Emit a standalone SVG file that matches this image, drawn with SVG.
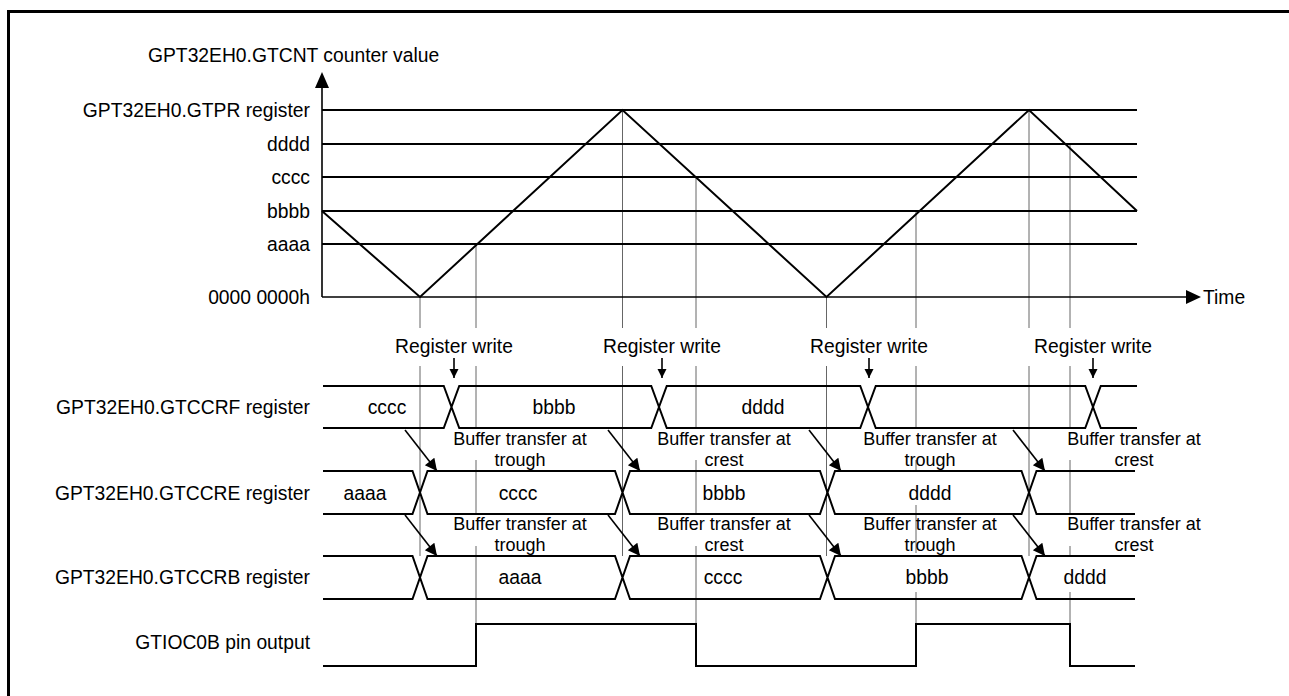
<svg xmlns="http://www.w3.org/2000/svg" width="1289" height="696" viewBox="0 0 1289 696">
<style>
text{font-family:"Liberation Sans",Arial,sans-serif;font-size:19.3px;fill:#000;dominant-baseline:central}
.r{text-anchor:end}
.m{text-anchor:middle}
.buf{font-size:18px}
.thick{stroke:#000;stroke-width:2;fill:none}
.ax{stroke:#000;stroke-width:1.6;fill:none}
.grid{stroke:#666;stroke-width:1;fill:none}
.arr{stroke:#000;stroke-width:1.6;fill:none}
</style>
<defs>
<marker id="ahS" markerUnits="userSpaceOnUse" viewBox="0 0 10 10" refX="10" refY="5" markerWidth="9" markerHeight="10" orient="auto">
<path d="M0,0 L10,5 L0,10 z" fill="#000"/>
</marker>
<marker id="ahL" markerUnits="userSpaceOnUse" viewBox="0 0 10 10" refX="10" refY="5" markerWidth="14" markerHeight="12" orient="auto">
<path d="M0,0 L10,5 L0,10 z" fill="#000"/>
</marker>
</defs>
<rect width="1289" height="696" fill="#fff"/>
<path d="M8.5,700 V11.5 H1292" stroke="#000" stroke-width="3" fill="none"/>

<g id="grid-lines">
<path class="grid" d="M420,297 V328 M420,366 V556"/>
<path class="grid" d="M476,244 V328 M476,366 V428 M476,460 V513 M476,546 V624"/>
<path class="grid" d="M622.5,110 V328 M622.5,366 V556"/>
<path class="grid" d="M696,177 V328 M696,366 V428 M696,460 V513 M696,546 V624"/>
<path class="grid" d="M826.5,297 V328 M826.5,366 V556"/>
<path class="grid" d="M916,211 V328 M916,366 V428 M916,460 V471 M916,505 V553 M916,592 V624"/>
<path class="grid" d="M1029,110 V328 M1029,366 V556"/>
<path class="grid" d="M1070,144 V328 M1070,366 V428 M1070,460 V513 M1070,546 V556 M1070,592 V624"/>
</g>

<g id="counter-axes">
<text x="148" y="55">GPT32EH0.GTCNT counter value</text>
<path class="ax" d="M322,297 V85"/>
<path d="M322,72 L315,88 L329,88 z" fill="#000"/>
<path class="ax" d="M322,297 H1188"/>
<path d="M1201,297 L1186,290 L1186,304 z" fill="#000"/>
<text x="1203" y="297">Time</text>
<text class="r" x="310" y="297">0000 0000h</text>
</g>

<g id="levels">
<text class="r" x="310" y="110">GPT32EH0.GTPR register</text>
<text class="r" x="310" y="144">dddd</text>
<text class="r" x="310" y="177">cccc</text>
<text class="r" x="310" y="211">bbbb</text>
<text class="r" x="310" y="244">aaaa</text>
<path class="thick" d="M322,110 H1137 M322,144 H1137 M322,177 H1137 M322,211 H1137 M322,244 H1137"/>
</g>

<g id="counter-wave">
<path class="thick" d="M322,211 L420,297 L622.5,110 L826.5,297 L1029,110 L1137,211"/>
</g>

<g id="register-writes">
<text class="m" x="454" y="346">Register write</text>
<text class="m" x="662" y="346">Register write</text>
<text class="m" x="869" y="346">Register write</text>
<text class="m" x="1093" y="346">Register write</text>
</g>

<g id="row-gtccrf">
<text class="r" x="310" y="407">GPT32EH0.GTCCRF register</text>
<path class="thick" d="M323,386 H443.75 L459.25,428 H651.25 L666.75,386 H860.25 L875.75,428 H1085.25 L1100.75,386 H1137
M323,428 H443.75 L459.25,386 H651.25 L666.75,428 H860.25 L875.75,386 H1085.25 L1100.75,428 H1137"/>
<text class="m" x="387" y="407">cccc</text>
<text class="m" x="554" y="407">bbbb</text>
<text class="m" x="763" y="407">dddd</text>
</g>

<g id="row-gtccre">
<text class="r" x="310" y="493">GPT32EH0.GTCCRE register</text>
<path class="thick" d="M323,471 H412.5 L427.5,514 H615 L630,471 H820 L835,514 H1021.5 L1036.5,471 H1135
M323,514 H412.5 L427.5,471 H615 L630,514 H820 L835,471 H1021.5 L1036.5,514 H1135"/>
<text class="m" x="365" y="493">aaaa</text>
<text class="m" x="518" y="493">cccc</text>
<text class="m" x="724" y="493">bbbb</text>
<text class="m" x="930" y="493">dddd</text>
</g>

<g id="row-gtccrb">
<text class="r" x="310" y="577">GPT32EH0.GTCCRB register</text>
<path class="thick" d="M323,556 H412.5 L427.5,599 H615 L630,556 H820 L835,599 H1021.5 L1036.5,556 H1135
M323,599 H412.5 L427.5,556 H615 L630,599 H820 L835,556 H1021.5 L1036.5,599 H1135"/>
<text class="m" x="520" y="577">aaaa</text>
<text class="m" x="723" y="577">cccc</text>
<text class="m" x="927" y="577">bbbb</text>
<text class="m" x="1085" y="577">dddd</text>
</g>

<g id="row-gtioc0b">
<text class="r" x="310" y="642">GTIOC0B pin output</text>
<path class="thick" d="M323,666 H476 V624 H696 V666 H916 V624 H1070 V666 H1135"/>
</g>

<g id="buffer-labels">
<text class="m buf" x="520" y="439">Buffer transfer at<tspan x="520" y="460">trough</tspan></text>
<text class="m buf" x="724" y="439">Buffer transfer at<tspan x="724" y="460">crest</tspan></text>
<text class="m buf" x="930" y="439">Buffer transfer at<tspan x="930" y="460">trough</tspan></text>
<text class="m buf" x="1134" y="439">Buffer transfer at<tspan x="1134" y="460">crest</tspan></text>
<text class="m buf" x="520" y="524">Buffer transfer at<tspan x="520" y="545">trough</tspan></text>
<text class="m buf" x="724" y="524">Buffer transfer at<tspan x="724" y="545">crest</tspan></text>
<text class="m buf" x="930" y="524">Buffer transfer at<tspan x="930" y="545">trough</tspan></text>
<text class="m buf" x="1134" y="524">Buffer transfer at<tspan x="1134" y="545">crest</tspan></text>
</g>

<g id="connectors">
<line class="arr" x1="454" y1="358" x2="454" y2="378" marker-end="url(#ahS)"/>
<line class="arr" x1="662" y1="358" x2="662" y2="378" marker-end="url(#ahS)"/>
<line class="arr" x1="869" y1="358" x2="869" y2="378" marker-end="url(#ahS)"/>
<line class="arr" x1="1093" y1="358" x2="1093" y2="378" marker-end="url(#ahS)"/>
<line class="arr" x1="405" y1="430" x2="437" y2="471" marker-end="url(#ahL)"/>
<line class="arr" x1="608" y1="430" x2="640" y2="471" marker-end="url(#ahL)"/>
<line class="arr" x1="809" y1="430" x2="841" y2="471" marker-end="url(#ahL)"/>
<line class="arr" x1="1013" y1="430" x2="1045" y2="471" marker-end="url(#ahL)"/>
<line class="arr" x1="405" y1="515" x2="437" y2="556" marker-end="url(#ahL)"/>
<line class="arr" x1="608" y1="515" x2="640" y2="556" marker-end="url(#ahL)"/>
<line class="arr" x1="809" y1="515" x2="841" y2="556" marker-end="url(#ahL)"/>
<line class="arr" x1="1013" y1="515" x2="1045" y2="556" marker-end="url(#ahL)"/>
</g>
</svg>
